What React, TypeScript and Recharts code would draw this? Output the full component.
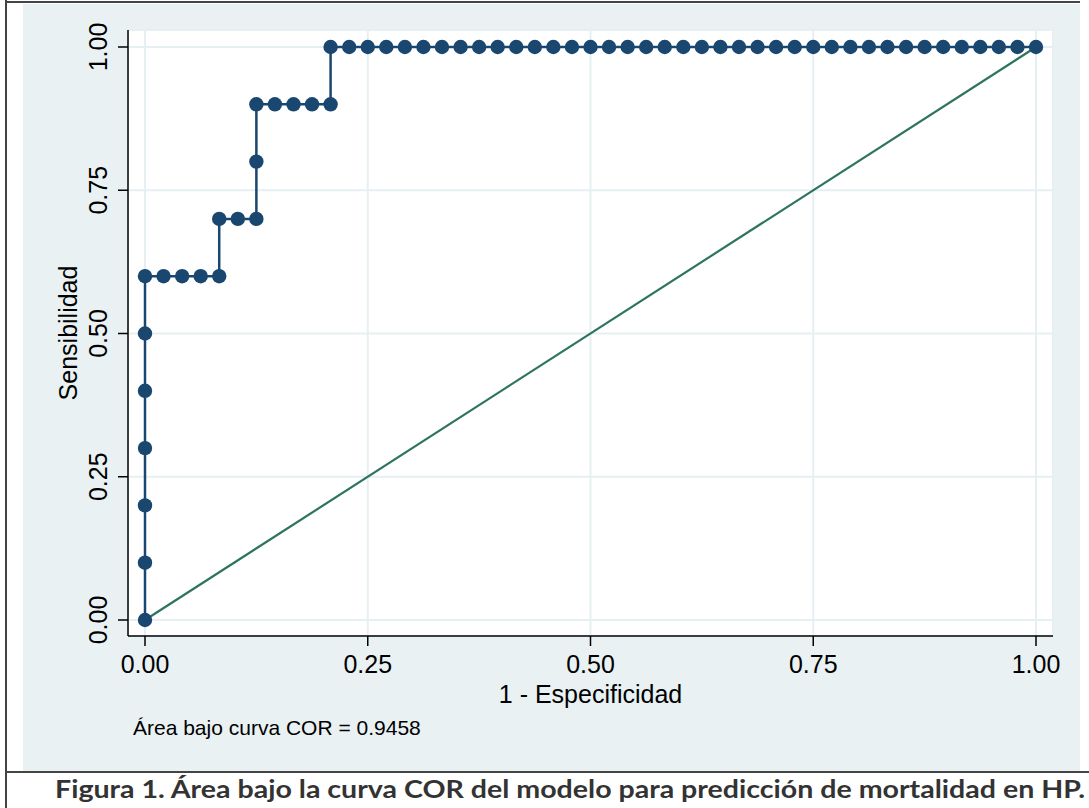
import { LineChart, Line, XAxis, YAxis, CartesianGrid } from "recharts";

// 1 - especificidad (falsos positivos) y sensibilidad, punto por punto
const especificidad1 = [
  0, 0, 0, 0, 0, 0, 0,
  0.0208, 0.0417, 0.0625, 0.0833,
  0.0833, 0.1042, 0.125,
  0.125, 0.125,
  0.1458, 0.1667, 0.1875, 0.2083,
  0.2083,
  0.2292, 0.25, 0.2708, 0.2917, 0.3125, 0.3333, 0.3542, 0.375, 0.3958, 0.4167,
  0.4375, 0.4583, 0.4792, 0.5, 0.5208, 0.5417, 0.5625, 0.5833, 0.6042, 0.625,
  0.6458, 0.6667, 0.6875, 0.7083, 0.7292, 0.75, 0.7708, 0.7917, 0.8125, 0.8333,
  0.8542, 0.875, 0.8958, 0.9167, 0.9375, 0.9583, 0.9792, 1,
];
const sensibilidad = [
  0, 0.1, 0.2, 0.3, 0.4, 0.5, 0.6,
  0.6, 0.6, 0.6, 0.6,
  0.7, 0.7, 0.7,
  0.8, 0.9,
  0.9, 0.9, 0.9, 0.9,
  1,
  1, 1, 1, 1, 1, 1, 1, 1, 1, 1,
  1, 1, 1, 1, 1, 1, 1, 1, 1, 1,
  1, 1, 1, 1, 1, 1, 1, 1, 1, 1,
  1, 1, 1, 1, 1, 1, 1, 1,
];
const refX = [0, 1];
const refY = [0, 1];
const ticks = [0, 0.25, 0.5, 0.75, 1];
const tickLabels = ["0.00", "0.25", "0.50", "0.75", "1.00"];

const rocData = especificidad1.map((x, i) => ({ x, y: sensibilidad[i] }));
const refData = refX.map((x, i) => ({ x, y: refY[i] }));

const fmt = (v: number) => tickLabels[ticks.indexOf(v)] ?? String(v);

const NAVY = "#1a476f";
const TEAL = "#2d7461";
const BG = "#e9f1f3";
const FONT = "'Liberation Sans', Arial, Helvetica, sans-serif";

function YTick(props: any) {
  const { x, y, payload } = props;
  return (
    <text
      x={x}
      y={y}
      transform={`rotate(-90 ${x} ${y})`}
      textAnchor="middle"
      fontSize={25}
      fill="#000"
      fontFamily={FONT}
    >
      {fmt(payload.value)}
    </text>
  );
}

function YTitle(props: any) {
  const vb = props.viewBox ?? { x: 25, y: 26, width: 80, height: 606 };
  const x = vb.x + 29;
  const y = vb.y + vb.height / 2;
  return (
    <text
      x={x}
      y={y}
      transform={`rotate(-90 ${x} ${y})`}
      textAnchor="middle"
      fontSize={25}
      fill="#000"
      fontFamily={FONT}
    >
      Sensibilidad
    </text>
  );
}

function XTitle(props: any) {
  const vb = props.viewBox ?? { x: 105, y: 632, width: 925, height: 100 };
  return (
    <g fontFamily={FONT} fill="#000">
      <text x={vb.x + vb.width / 2} y={vb.y + 67} textAnchor="middle" fontSize={25}>
        1 - Especificidad
      </text>
      <text x={vb.x + 5} y={vb.y + 99} textAnchor="start" fontSize={21}>
        Área bajo curva COR = 0.9458
      </text>
    </g>
  );
}

export default function App() {
  return (
    <div
      style={{
        position: "absolute",
        left: 0,
        top: 0,
        width: 1089,
        height: 808,
        background: "#fff",
        overflow: "hidden",
      }}
    >
      <div style={{ position: "absolute", left: 23, top: 4, width: 1057, height: 768, background: BG }}>
        <LineChart
          width={1057}
          height={768}
          margin={{ top: 26, right: 27, bottom: 36, left: 25 }}
          style={{ fontFamily: FONT }}
        >
          <CartesianGrid stroke="#e6eff1" strokeWidth={2} fill="#fff" />
          <XAxis
            type="number"
            dataKey="x"
            domain={[0, 1]}
            ticks={ticks}
            tickFormatter={fmt}
            padding={{ left: 17, right: 17 }}
            height={100}
            tickSize={10}
            tickMargin={9}
            axisLine={{ stroke: "#000", strokeWidth: 1.5 }}
            tickLine={{ stroke: "#000", strokeWidth: 1.5 }}
            tick={{ fontSize: 25, fill: "#000", fontFamily: FONT }}
            label={XTitle}
          />
          <YAxis
            type="number"
            dataKey="y"
            domain={[0, 1]}
            ticks={ticks}
            padding={{ top: 17, bottom: 16 }}
            width={80}
            tickSize={10}
            tickMargin={11}
            axisLine={{ stroke: "#000", strokeWidth: 1.5 }}
            tickLine={{ stroke: "#000", strokeWidth: 1.5 }}
            tick={YTick}
            label={YTitle}
          />
          <Line
            data={rocData}
            dataKey="y"
            type="linear"
            stroke={NAVY}
            strokeWidth={2.5}
            dot={{ r: 7.2, fill: NAVY, stroke: "none" }}
            isAnimationActive={false}
          />
          <Line
            data={refData}
            dataKey="y"
            type="linear"
            stroke={TEAL}
            strokeWidth={2.2}
            dot={false}
            isAnimationActive={false}
          />
        </LineChart>
      </div>
      <svg
        width={1089}
        height={808}
        style={{ position: "absolute", left: 0, top: 0, pointerEvents: "none" }}
      >
        <line x1={6} y1={0} x2={6} y2={808} stroke="#444" strokeWidth={2} />
        <line x1={5} y1={2} x2={1080} y2={2} stroke="#444" strokeWidth={2} />
        <line x1={5} y1={772} x2={1089} y2={772} stroke="#444" strokeWidth={2} />
        <text
          x={55}
          y={798}
          textLength={1030}
          lengthAdjust="spacingAndGlyphs"
          fontFamily="Lato, 'Open Sans', sans-serif"
          fontWeight="bold"
          fontSize={25}
          fill="#333"
        >
          Figura 1. Área bajo la curva COR del modelo para predicción de mortalidad en HP.
        </text>
      </svg>
    </div>
  );
}
